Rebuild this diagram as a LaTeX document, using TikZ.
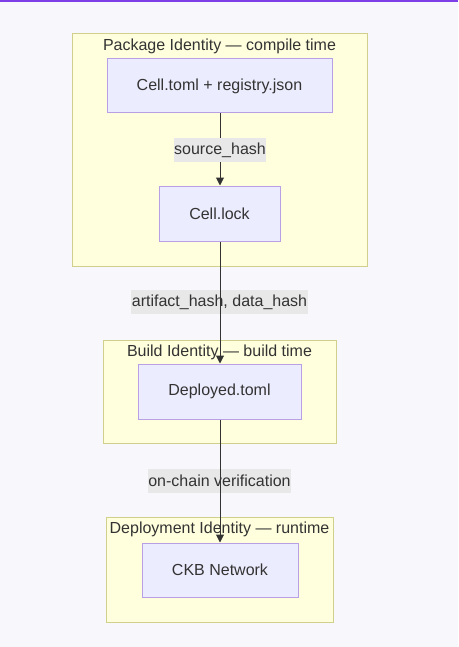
\documentclass[tikz,border=0pt]{standalone}
\usepackage{fontspec}
\setmainfont{Liberation Sans}
\usetikzlibrary{arrows.meta}
\definecolor{bgc}{HTML}{F8F8FC}
\definecolor{topline}{HTML}{7F3FE8}
\definecolor{clfill}{HTML}{FFFFDE}
\definecolor{clline}{HTML}{D0D08C}
\definecolor{ndfill}{HTML}{ECECFF}
\definecolor{ndline}{HTML}{B9A0E4}
\definecolor{lblfill}{HTML}{E8E8E8}
\definecolor{txt}{HTML}{333333}
\tikzset{
  cluster/.style={draw=clline, fill=clfill, line width=1pt},
  cltitle/.style={text=txt, font=\fontsize{16}{19}\selectfont, inner sep=0pt},
  stepbox/.style={draw=ndline, fill=ndfill, line width=1pt, text=txt,
    font=\fontsize{16}{19}\selectfont, minimum height=54pt, inner sep=0pt},
  edgelbl/.style={fill=lblfill, text=txt, font=\fontsize{16}{19}\selectfont,
    inner xsep=0.5pt, minimum height=24pt, inner ysep=0pt},
  link/.style={draw=txt, line width=1pt, -{Triangle[length=8pt,width=8pt]}}
}
\begin{document}
\begin{tikzpicture}[x=1pt,y=-1pt]
\useasboundingbox (0,0) rectangle (458,647);
\fill[bgc] (0,0) rectangle (458,647);
\fill[topline] (0,0) rectangle (458,2);
% clusters
\draw[cluster] (72,34) rectangle (367,266);
\node[cltitle] (t1) at (219.5,46) {Package Identity — compile time};
\draw[cluster] (103.5,340) rectangle (336,443);
\node[cltitle] (t2) at (219.5,352) {Build Identity — build time};
\draw[cluster] (106,517) rectangle (333,622);
\node[cltitle] (t3) at (219.5,529) {Deployment Identity — runtime};
% nodes
\node[stepbox, minimum width=225pt] (a) at (219.5,86) {Cell.toml + registry.json};
\node[stepbox, minimum width=121pt, minimum height=55pt] (b) at (219.5,213.5) {Cell.lock};
\node[stepbox, minimum width=163pt, minimum height=55pt] (c) at (219.5,391.5) {Deployed.toml};
\node[stepbox, minimum width=156pt] (d) at (220,570) {CKB Network};
% edges
\draw[link] (a.south -| 220,0) -- (b.north -| 220,0);
\node[edgelbl] (l1) at (220,150) {source\_hash};
\node[edgelbl] (l2) at (219.5,302) {artifact\_hash, data\_hash};
\node[edgelbl] (l3) at (219.5,481) {on-chain verification};
\draw[link] (b.south -| 220,0) -- (c.north -| 220,0);
\draw[link] (c.south -| 220,0) -- (d.north -| 220,0);
\end{tikzpicture}
\end{document}
